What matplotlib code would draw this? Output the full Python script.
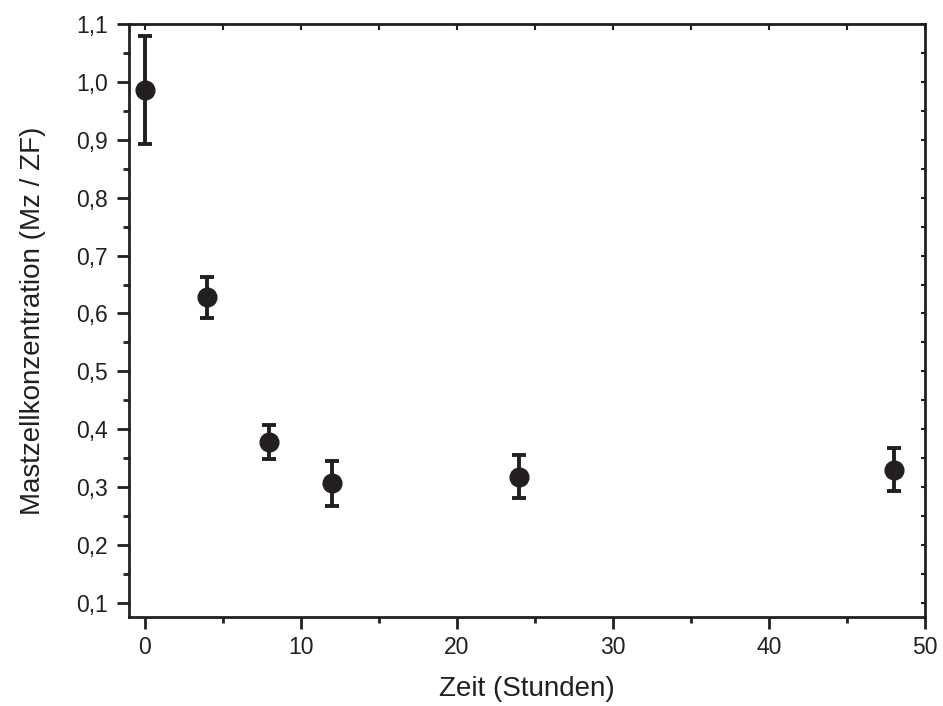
import matplotlib
matplotlib.use('Agg')
import matplotlib.pyplot as plt
from matplotlib.ticker import FuncFormatter, MultipleLocator

plt.rcParams['font.family'] = ['Liberation Sans', 'DejaVu Sans']

# Zeitpunkte und Mastzellkonzentration (Mittelwert +/- Fehler)
zeit = [0, 4, 8, 12, 24, 48]
konz = [0.986, 0.628, 0.378, 0.307, 0.318, 0.330]
fehler = [0.094, 0.035, 0.029, 0.039, 0.037, 0.037]

col = '#231f20'

fig = plt.figure(figsize=(9.43, 7.06), dpi=100)
ax = fig.add_axes([129 / 943, 1 - 617 / 706, (925 - 129) / 943, (617 - 24) / 706])

ax.errorbar(zeit, konz, yerr=fehler, fmt='o', color=col, ecolor=col,
            markersize=13.5, elinewidth=2.8, capsize=5.2, capthick=2.8)

ax.set_xlim(-1, 50)
ax.set_ylim(0.0758, 1.1)
ax.xaxis.set_major_locator(MultipleLocator(10))
ax.xaxis.set_minor_locator(MultipleLocator(5))
ax.yaxis.set_major_locator(MultipleLocator(0.1))
ax.yaxis.set_minor_locator(MultipleLocator(0.05))
ax.yaxis.set_major_formatter(FuncFormatter(lambda v, p: f'{v:.1f}'.replace('.', ',')))

for s in ax.spines.values():
    s.set_linewidth(2)
    s.set_color(col)

ax.tick_params(which='both', direction='out', color=col, width=2,
               labelsize=16.5, labelcolor=col, top=False, right=False)
ax.tick_params(which='major', length=8.5)
ax.tick_params(which='minor', length=4.5)
ax.tick_params(axis='y', which='major', pad=6.5)
ax.tick_params(axis='x', which='major', pad=5.5)

# kleine Striche innen an oberer und rechter Achse
top = ax.secondary_xaxis('top')
top.xaxis.set_major_locator(MultipleLocator(5))
top.tick_params(direction='in', length=4, width=1.5, color=col, labeltop=False)
right = ax.secondary_yaxis('right')
right.yaxis.set_major_locator(MultipleLocator(0.05))
right.tick_params(direction='in', length=3, width=1.5, color=col, labelright=False)
for sec in (top, right):
    for s in sec.spines.values():
        s.set_visible(False)

ax.set_xlabel('Zeit (Stunden)', fontsize=20, color=col, labelpad=12)
ax.set_ylabel('Mastzellkonzentration (Mz / ZF)', fontsize=20, color=col, labelpad=22)

fig.savefig('out.png', dpi=100)
